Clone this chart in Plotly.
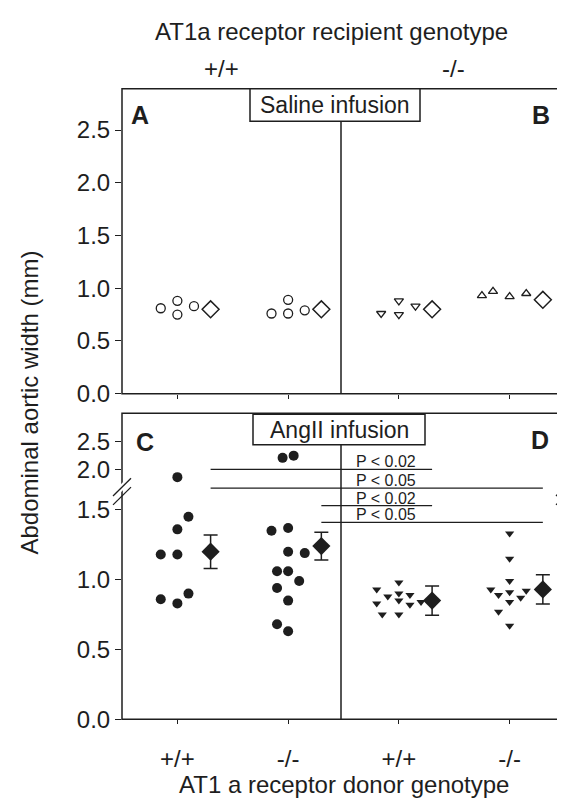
import plotly.graph_objects as go

W, H = 565, 805
FONT = "Liberation Sans, Arial, sans-serif"
INK = "#1e1e1e"

# group positions and labels
groups = [1, 2, 3, 4]
donor_labels = ["+/+", "-/-", "+/+", "-/-"]
recipient_labels = ["+/+", "-/-"]

# Saline infusion (open symbols), values in mm
sal_g1 = [0.81, 0.88, 0.75, 0.83]
sal_g2 = [0.76, 0.89, 0.76, 0.79]
sal_g3 = [0.76, 0.88, 0.75, 0.83]
sal_g4 = [0.93, 0.97, 0.92, 0.95]
sal_jit1 = [-0.15, 0.0, 0.0, 0.15]
sal_jit2 = [-0.15, 0.0, 0.0, 0.15]
sal_jit3 = [-0.16, 0.0, 0.0, 0.15]
sal_jit4 = [-0.25, -0.15, 0.0, 0.15]
sal_mean = [0.80, 0.80, 0.80, 0.89]
sal_sem = [0.02, 0.02, 0.02, 0.02]

# AngII infusion (filled symbols)
ang_g1 = [1.86, 1.45, 1.36, 1.18, 1.18, 0.90, 0.86, 0.83]
ang_g2 = [2.21, 2.25, 1.35, 1.37, 1.20, 1.19, 1.06, 1.06, 0.99, 0.94, 0.85, 0.68, 0.63]
ang_g3 = [0.98, 0.93, 0.88, 0.90, 0.89, 0.83, 0.85, 0.82, 0.84, 0.75, 0.75]
ang_g4 = [1.33, 1.15, 0.99, 0.93, 0.92, 0.89, 0.91, 0.87, 0.84, 0.77, 0.67]
ang_jit1 = [0.0, 0.1, 0.0, -0.15, 0.0, 0.1, -0.15, 0.0]
ang_jit2 = [-0.05, 0.05, -0.15, 0.0, 0.0, 0.15, -0.1, 0.0, 0.1, -0.1, 0.0, -0.1, 0.0]
ang_jit3 = [0.0, -0.2, -0.1, 0.0, 0.1, -0.2, 0.0, 0.1, 0.2, -0.15, 0.0]
ang_jit4 = [0.0, 0.0, 0.0, -0.17, 0.15, -0.1, 0.0, 0.1, 0.0, -0.1, 0.0]
ang_mean = [1.20, 1.24, 0.85, 0.93]
ang_sem = [0.12, 0.10, 0.105, 0.105]

# significance bars
sig_from = [1.3, 1.3, 2.3, 2.3]
sig_to = [3.3, 4.3, 3.3, 4.3]
sig_y = [2.0, 1.66, 1.53, 1.41]
sig_text = ["P < 0.02", "P < 0.05", "P < 0.02", "P < 0.05"]

BREAK = 1.62
MEAN_DX = 0.3


def px(x):
    return x / W


def py(y):
    return 1 - y / H


fig = go.Figure()

# ---- saline panel
sal_sets = [(sal_g1, sal_jit1, "circle-open", 9), (sal_g2, sal_jit2, "circle-open", 9),
            (sal_g3, sal_jit3, "triangle-down-open", 8), (sal_g4, sal_jit4, "triangle-up-open", 8)]
for g, (vals, jit, sym, sz) in zip(groups, sal_sets):
    fig.add_trace(go.Scatter(
        x=[g + d for d in jit], y=vals, mode="markers", xaxis="x", yaxis="y",
        marker=dict(symbol=sym, size=sz, color=INK, line=dict(width=1.3, color=INK)),
        showlegend=False, hoverinfo="skip"))
fig.add_trace(go.Scatter(
    x=[g + MEAN_DX for g in groups], y=sal_mean, mode="markers", xaxis="x", yaxis="y",
    error_y=dict(type="data", array=sal_sem, width=6, thickness=1.3, color=INK),
    marker=dict(symbol="diamond", size=13, color="white", line=dict(width=1.5, color=INK)),
    showlegend=False, hoverinfo="skip"))

# ---- AngII panel (broken axis: y2 lower, y3 upper)
ang_sets = [(ang_g1, ang_jit1, "circle", 10), (ang_g2, ang_jit2, "circle", 10),
            (ang_g3, ang_jit3, "triangle-down", 8), (ang_g4, ang_jit4, "triangle-down", 8)]
for g, (vals, jit, sym, sz) in zip(groups, ang_sets):
    for ax, keep in (("y2", lambda v: v <= BREAK), ("y3", lambda v: v > BREAK)):
        xs = [g + d for v, d in zip(vals, jit) if keep(v)]
        ys = [v for v in vals if keep(v)]
        if not ys:
            continue
        fig.add_trace(go.Scatter(
            x=xs, y=ys, mode="markers", xaxis="x2", yaxis=ax,
            marker=dict(symbol=sym, size=sz, color=INK, line=dict(width=0)),
            showlegend=False, hoverinfo="skip"))
fig.add_trace(go.Scatter(
    x=[g + MEAN_DX for g in groups], y=ang_mean, mode="markers", xaxis="x2", yaxis="y2",
    error_y=dict(type="data", array=ang_sem, width=7, thickness=1.5, color=INK),
    marker=dict(symbol="diamond", size=14, color=INK),
    showlegend=False, hoverinfo="skip"))

# geometry (pixels)
L, R = 114, 557
T1, B1 = 82, 392
T2, BRK, B2 = 412, 491, 723
XDOM = [px(L), px(R)]

tick_font = dict(family=FONT, size=24, color=INK)
xcommon = dict(range=[0.5, 4.5], tickvals=groups, ticks="outside", ticklen=4,
               tickwidth=1.3, tickcolor=INK, showgrid=False, zeroline=False,
               showline=False, domain=XDOM, tickfont=tick_font)
ycommon = dict(ticks="outside", ticklen=6, tickwidth=1.3, tickcolor=INK,
               showgrid=False, zeroline=False, showline=False, tickfont=tick_font)

fig.update_layout(
    width=W, height=H, margin=dict(l=0, r=0, t=0, b=0),
    paper_bgcolor="white", plot_bgcolor="white", showlegend=False,
    font=dict(family=FONT, color=INK),
    xaxis=dict(anchor="y", showticklabels=False, **xcommon),
    yaxis=dict(anchor="x", domain=[py(B1), py(T1)], range=[0, 2.892],
               tickvals=[0, 0.5, 1.0, 1.5, 2.0, 2.5],
               ticktext=["0.0", "0.5", "1.0", "1.5", "2.0", "2.5"], **ycommon),
    xaxis2=dict(anchor="y2", ticktext=donor_labels, ticklabelstandoff=14, **xcommon),
    yaxis2=dict(anchor="x2", domain=[py(B2), py(BRK)], range=[0, 1.634],
                tickvals=[0, 0.5, 1.0, 1.5], ticktext=["0.0", "0.5", "1.0", "1.5"], **ycommon),
    yaxis3=dict(anchor="x2", domain=[py(BRK), py(T2)], range=[1.607, 3.018],
                tickvals=[2.0, 2.5], ticktext=["2.0", "2.5"], **ycommon),
)

shapes = []
line = dict(color=INK, width=1.5)
# frames
for top, bot in ((T1, B1), (T2, B2)):
    shapes.append(dict(type="rect", xref="paper", yref="paper", x0=px(L), x1=px(R),
                       y0=py(bot), y1=py(top), line=line))
    shapes.append(dict(type="line", xref="paper", yref="paper", x0=px(333), x1=px(333),
                       y0=py(bot), y1=py(top), line=line))
# panel title boxes
shapes.append(dict(type="rect", xref="paper", yref="paper", x0=px(242), x1=px(412),
                   y0=py(115), y1=py(82), fillcolor="white", line=line))
shapes.append(dict(type="rect", xref="paper", yref="paper", x0=px(245), x1=px(417),
                   y0=py(444), y1=py(413), fillcolor="white", line=line))
# axis break marks
for cx in (L, R):
    shapes.append(dict(type="path", xref="paper", yref="paper",
                       path=f"M{px(cx-9)},{py(500)} L{px(cx+9)},{py(482)} L{px(cx+9)},{py(474)} L{px(cx-9)},{py(492)} Z",
                       fillcolor="white", line=dict(width=0)))
    for off in (0, 9):
        shapes.append(dict(type="line", xref="paper", yref="paper",
                           x0=px(cx - 9), y0=py(496 + off), x1=px(cx + 9), y1=py(478 + off),
                           line=dict(color=INK, width=1.3)))
# significance bars
annotations = []
for x0, x1, yv, txt in zip(sig_from, sig_to, sig_y, sig_text):
    ax = "y3" if yv > BREAK else "y2"
    shapes.append(dict(type="line", xref="x2", yref=ax, x0=x0, x1=x1, y0=yv, y1=yv,
                       line=dict(color=INK, width=1.3)))
    annotations.append(dict(xref="x2", yref=ax, x=2.6, y=yv, text=txt, showarrow=False,
                            xanchor="left", yanchor="bottom", yshift=-2, borderpad=0,
                            font=dict(family=FONT, size=16, color=INK)))
fig.update_layout(shapes=shapes)


def note(x, y, text, size, **kw):
    annotations.append(dict(xref="paper", yref="paper", x=px(x), y=py(y), text=text,
                            showarrow=False, xanchor="center", yanchor="middle",
                            font=dict(family=FONT, size=size, color=INK), **kw))


note(323, 24, "AT1a receptor recipient genotype", 24)
note(213, 62, recipient_labels[0], 24)
note(445, 62, recipient_labels[1], 24)
note(327, 99, "Saline infusion", 23)
note(331, 429, "AngII infusion", 23)
note(132, 109, "<b>A</b>", 25)
note(533, 109, "<b>B</b>", 25)
note(137, 441, "<b>C</b>", 25)
note(532, 439, "<b>D</b>", 25)
note(336, 789, "AT1 a receptor donor genotype", 24)
note(22, 401, "Abdominal aortic width (mm)", 24, textangle=-90)
fig.update_layout(annotations=annotations)

fig.write_html("out.html")
